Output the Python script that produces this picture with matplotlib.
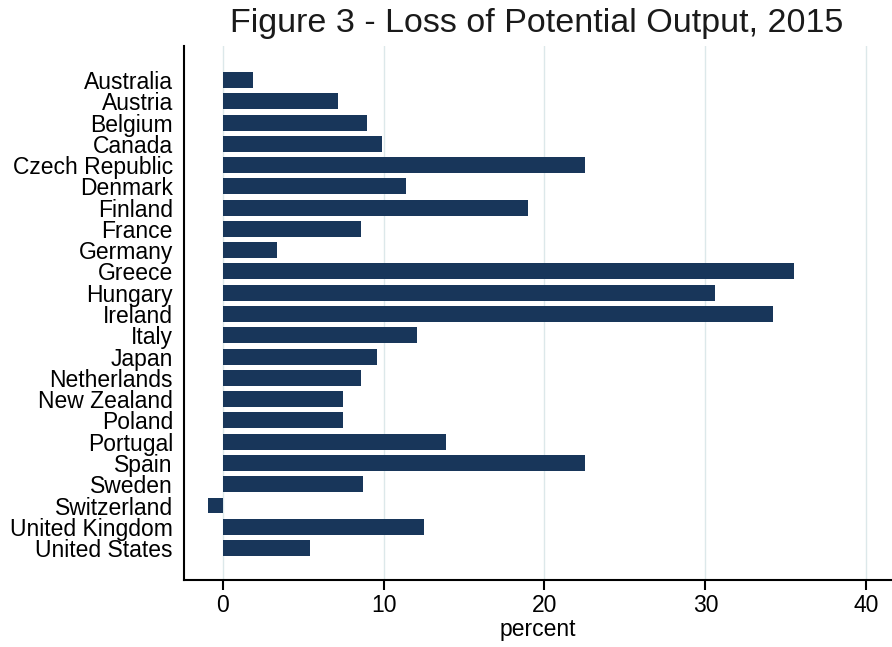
import numpy as np
import matplotlib.pyplot as plt

countries = ["Australia", "Austria", "Belgium", "Canada", "Czech Republic", "Denmark",
             "Finland", "France", "Germany", "Greece", "Hungary", "Ireland", "Italy",
             "Japan", "Netherlands", "New Zealand", "Poland", "Portugal", "Spain",
             "Sweden", "Switzerland", "United Kingdom", "United States"]
loss = [1.9, 7.2, 9.0, 9.9, 22.5, 11.4, 19.0, 8.6, 3.4, 35.5, 30.6, 34.2, 12.1,
        9.6, 8.6, 7.5, 7.5, 13.9, 22.5, 8.7, -0.9, 12.5, 5.4]
xticks = [0, 10, 20, 30, 40]

plt.rcParams['font.family'] = ['Liberation Sans', 'DejaVu Sans']

fig = plt.figure(figsize=(8.92, 6.47), dpi=100)
ax = fig.add_axes([0.2063, 0.1036, 0.7937, 0.8254])

y = np.arange(len(countries))
ax.barh(y, loss, height=0.75, color="#18365a", zorder=3)
ax.set_yticks(y)
ax.set_yticklabels(countries, fontsize=16.5)
ax.set_ylim(len(countries) - 1 + 1.5, -1.6)
ax.tick_params(axis='y', length=0, pad=8)

ax.set_xlim(-2.4, 41.6)
ax.set_xticks(xticks)
ax.tick_params(axis='x', length=7, width=1.5, labelsize=16.5, pad=3)
ax.grid(axis='x', color="#dce8ea", linewidth=1, zorder=0)
ax.set_xlabel("percent", fontsize=16.5, labelpad=1)

for s in ["top", "right"]:
    ax.spines[s].set_visible(False)
for s in ["left", "bottom"]:
    ax.spines[s].set_linewidth(1.5)

fig.text(0.602, 0.963, "Figure 3 - Loss of Potential Output, 2015", ha="center", va="center",
         fontsize=24.5, color="#1a1a1a")

fig.savefig("out.png", dpi=100)
